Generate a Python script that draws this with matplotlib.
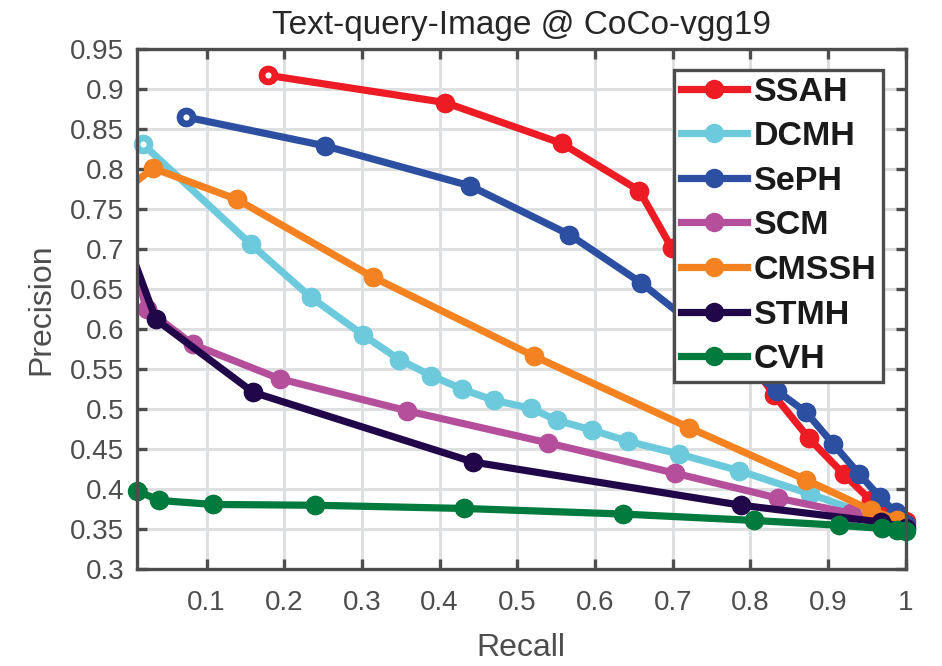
import matplotlib
matplotlib.use('Agg')
import matplotlib.pyplot as plt
from matplotlib.ticker import FormatStrFormatter

# 数据 (Recall, Precision)
names = ['SSAH', 'DCMH', 'SePH', 'SCM', 'CMSSH', 'STMH', 'CVH']

ssah_r = [0.179, 0.407, 0.557, 0.657, 0.699, 0.830, 0.875, 0.920, 0.955, 1.0]
ssah_p = [0.917, 0.883, 0.832, 0.773, 0.701, 0.518, 0.464, 0.419, 0.386, 0.360]

dcmh_r = [0.018, 0.157, 0.234, 0.301, 0.348, 0.389, 0.429, 0.470, 0.518, 0.551,
          0.596, 0.642, 0.708, 0.786, 0.877, 1.0]
dcmh_p = [0.831, 0.706, 0.640, 0.593, 0.562, 0.542, 0.525, 0.511, 0.501, 0.486,
          0.474, 0.460, 0.444, 0.423, 0.394, 0.352]

seph_r = [0.073, 0.252, 0.439, 0.567, 0.659, 0.834, 0.872, 0.907, 0.940, 0.967, 0.987, 1.0]
seph_p = [0.865, 0.829, 0.779, 0.718, 0.658, 0.523, 0.496, 0.456, 0.419, 0.390, 0.371, 0.356]

scm_r = [0.005, 0.0227, 0.082, 0.194, 0.358, 0.539, 0.703, 0.835, 0.929, 1.0]
scm_p = [0.685, 0.625, 0.581, 0.538, 0.498, 0.458, 0.420, 0.389, 0.370, 0.352]

cmssh_r = [0.005, 0.031, 0.139, 0.314, 0.522, 0.721, 0.871, 0.955, 0.989]
cmssh_p = [0.781, 0.801, 0.762, 0.665, 0.566, 0.477, 0.412, 0.374, 0.362]

stmh_r = [0.005, 0.0347, 0.160, 0.443, 0.788, 0.968, 1.0]
stmh_p = [0.690, 0.612, 0.521, 0.434, 0.380, 0.359, 0.352]

cvh_r = [0.011, 0.039, 0.108, 0.240, 0.431, 0.636, 0.805, 0.914, 0.970, 0.989, 1.0]
cvh_p = [0.398, 0.386, 0.381, 0.380, 0.376, 0.369, 0.361, 0.355, 0.351, 0.349, 0.348]

recalls = [ssah_r, dcmh_r, seph_r, scm_r, cmssh_r, stmh_r, cvh_r]
precisions = [ssah_p, dcmh_p, seph_p, scm_p, cmssh_p, stmh_p, cvh_p]
colors = ['#ED1C24', '#6DCADC', '#2C4FA1', '#B54F9C', '#F58220', '#22064A', '#007A3D']
ring_first = ['SSAH', 'DCMH', 'SePH']  # 第一个点是空心圆

x_min, x_max = 0.01, 1.0

plt.rcParams['font.family'] = ['Liberation Sans', 'DejaVu Sans']
gray = '#4D4D4D'

fig = plt.figure(figsize=(9.42, 6.66), dpi=100)
ax = fig.add_axes([0.1451, 0.1452, 0.8164, 0.7814])

for name, r, p, c in zip(names, recalls, precisions, colors):
    inside = [i for i, a in enumerate(r) if a >= x_min]
    ax.plot(r, p, '-o', color=c, lw=5.2, ms=14, mew=0, markevery=inside, label=name)
    # 范围内的点标记不裁剪
    ax.plot([r[i] for i in inside], [p[i] for i in inside], 'o', color=c, ms=14, mew=0,
            clip_on=False)
    if name in ring_first:
        ax.plot(r[0], p[0], 'o', mfc='white', mec=c, ms=9, mew=4.5, clip_on=False)

ax.set_xlim(x_min, x_max)
ax.set_ylim(0.3, 0.95)
ax.set_xticks([0.1, 0.2, 0.3, 0.4, 0.5, 0.6, 0.7, 0.8, 0.9, 1.0])
ax.set_yticks([0.3, 0.35, 0.4, 0.45, 0.5, 0.55, 0.6, 0.65, 0.7, 0.75, 0.8, 0.85, 0.9, 0.95])
ax.xaxis.set_major_formatter(FormatStrFormatter('%g'))
ax.yaxis.set_major_formatter(FormatStrFormatter('%g'))

ax.grid(True, color='#DEDFE1', lw=2.2)
ax.set_axisbelow(True)
for s in ax.spines.values():
    s.set_color(gray)
    s.set_linewidth(2.4)
ax.tick_params(direction='in', length=7, width=2.4, color=gray, labelcolor=gray,
               labelsize=20, top=True, right=True)
ax.tick_params(axis='x', pad=15)
ax.tick_params(axis='y', pad=9)

ax.set_title('Text-query-Image @ CoCo-vgg19', fontsize=24, color='#262626', pad=11)
ax.set_xlabel('Recall', fontsize=23, color=gray, labelpad=12)
ax.set_ylabel('Precision', fontsize=23, color=gray, labelpad=10)

handles, labels = ax.get_legend_handles_labels()
leg = ax.legend(handles, labels, loc='upper right', bbox_to_anchor=(0.971, 0.96),
                borderaxespad=0, fancybox=False, framealpha=1, edgecolor=gray,
                prop={'weight': 'bold', 'size': 24.5}, labelspacing=0.40,
                handlelength=1.95, handletextpad=0.2, borderpad=0.2)
leg.get_frame().set_linewidth(2.4)
for t in leg.get_texts():
    t.set_color('#1A1A1A')

fig.savefig('out.png', dpi=100)
